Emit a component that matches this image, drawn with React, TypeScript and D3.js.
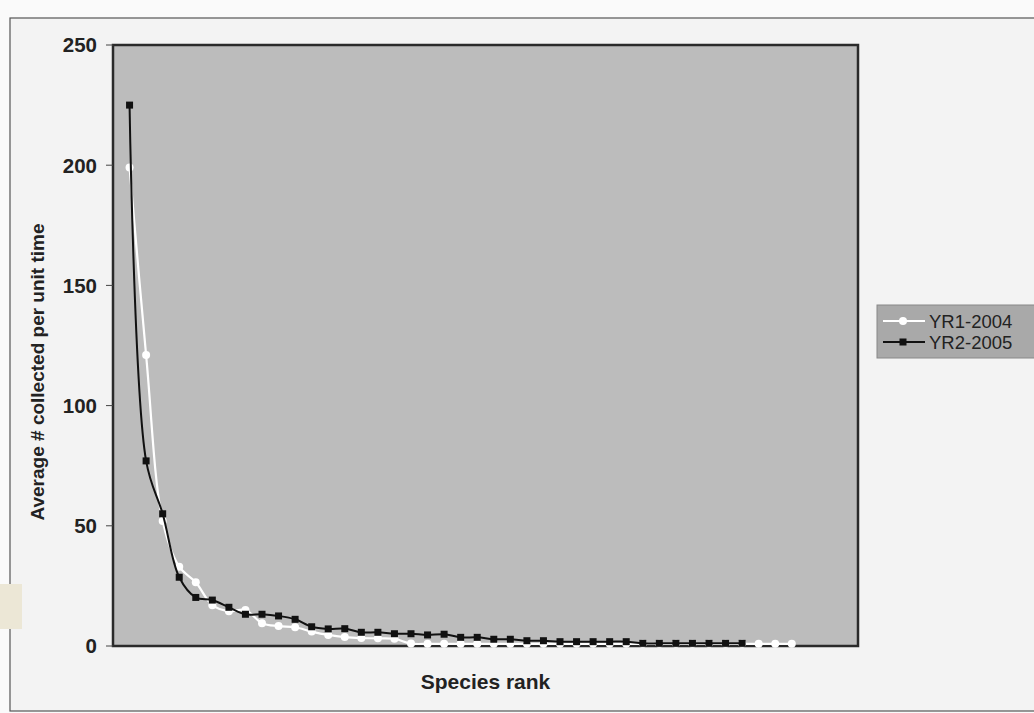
import React from "react";
import * as d3 from "d3";

const yTicks = [0, 50, 100, 150, 200, 250];
const seriesNames = ["YR1-2004", "YR2-2005"];
const yr1Values = [199, 121, 52, 33, 26.5, 17, 14.5, 15, 9.5, 8.3, 7.8, 6, 4.6, 3.7, 3.3, 3.2, 3, 1, 0.9, 0.9, 0.9, 0.9, 0.9, 0.9, 0.9, 0.9, 0.9, 0.9, 0.9, 0.9, 0.9, 0.9, 0.9, 0.9, 0.9, 0.9, 0.9, 0.9, 0.9, 0.9, 0.9];
const yr2Values = [225, 77, 55, 28.6, 20.2, 19.1, 16.1, 13.2, 13.2, 12.5, 11.1, 8, 7.1, 7.2, 5.7, 5.7, 5.1, 5.1, 4.6, 4.9, 3.6, 3.6, 2.8, 2.8, 2.2, 2.2, 1.8, 1.8, 1.8, 1.8, 1.8, 1.1, 1.1, 1.1, 1.1, 1.1, 1.1, 1.1];

const W = 1034, H = 713;
const P = { left: 113, right: 858, top: 45, bottom: 646 };

export default function App() {
  const x = d3.scaleLinear().domain([0, 45]).range([P.left, P.right]);
  const y = d3.scaleLinear().domain([0, 250]).range([P.bottom, P.top]);
  const line = d3
    .line<number>()
    .x((_, i) => x(i + 1))
    .y((d) => y(d))
    .curve(d3.curveCatmullRom.alpha(0.5));
  const font = "'Liberation Sans', Arial, sans-serif";
  return (
    <svg width={W} height={H} style={{ position: "absolute", left: 0, top: 0, background: "#fafafa" }}>
      <rect x={10} y={18} width={W} height={693} fill="#f3f3f3" stroke="#555" strokeWidth={1.2} />
      <rect x={0} y={584} width={22} height={45} fill="#ece7d6" />
      <rect x={P.left} y={P.top} width={P.right - P.left} height={P.bottom - P.top} fill="#bcbcbc" stroke="#2a2a2a" strokeWidth={2.5} />
      {yTicks.map((t) => (
        <g key={t}>
          <line x1={P.left - 7} x2={P.left} y1={y(t)} y2={y(t)} stroke="#444" strokeWidth={1} />
          <text x={97} y={y(t)} dy="0.36em" textAnchor="end" fontFamily={font} fontWeight="bold" fontSize={20.5} fill="#222">
            {t}
          </text>
        </g>
      ))}
      <text transform={`translate(44,${372}) rotate(-90)`} textAnchor="middle" fontFamily={font} fontWeight="bold" fontSize={19} fill="#222">
        Average # collected per unit time
      </text>
      <text x={(P.left + P.right) / 2} y={689} textAnchor="middle" fontFamily={font} fontWeight="bold" fontSize={21} fill="#222">
        Species rank
      </text>
      <path d={line(yr1Values) || ""} fill="none" stroke="#ffffff" strokeWidth={2.2} />
      {yr1Values.map((v, i) => (
        <circle key={"a" + i} cx={x(i + 1)} cy={y(v)} r={4} fill="#ffffff" />
      ))}
      <path d={line(yr2Values) || ""} fill="none" stroke="#111" strokeWidth={2} />
      {yr2Values.map((v, i) => (
        <rect key={"b" + i} x={x(i + 1) - 3.5} y={y(v) - 3.5} width={7} height={7} fill="#111" />
      ))}
      <g>
        <rect x={877} y={305} width={170} height={53} fill="#a9a9a9" stroke="#888" strokeWidth={1} />
        <line x1={883} x2={925} y1={321} y2={321} stroke="#fff" strokeWidth={2} />
        <circle cx={903} cy={321} r={4} fill="#fff" />
        <text x={929} y={321} dy="0.36em" fontFamily={font} fontSize={18.5} fill="#222">{seriesNames[0]}</text>
        <line x1={883} x2={925} y1={342} y2={342} stroke="#111" strokeWidth={2} />
        <rect x={899.5} y={338.5} width={7} height={7} fill="#111" />
        <text x={929} y={342} dy="0.36em" fontFamily={font} fontSize={18.5} fill="#222">{seriesNames[1]}</text>
      </g>
    </svg>
  );
}
